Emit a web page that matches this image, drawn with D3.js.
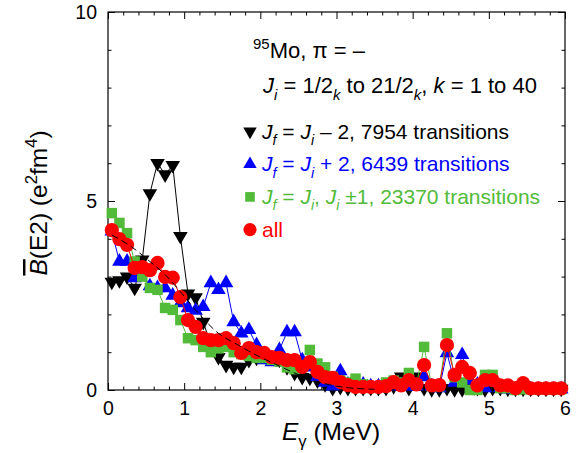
<!DOCTYPE html>
<html>
<head>
<meta charset="utf-8">
<script src="https://cdn.jsdelivr.net/npm/d3@7"></script>
<style>
  body { margin: 0; background: #fff; }
  svg { display: block; font-family: "Liberation Sans", Arial, sans-serif; }
</style>
</head>
<body>
<div id="chart"></div>
<script>
// gamma energies (MeV), bin centres
const energies = [0.05, 0.15, 0.25, 0.35, 0.45, 0.55, 0.65, 0.75, 0.85, 0.95,
  1.05, 1.15, 1.25, 1.35, 1.45, 1.55, 1.65, 1.75, 1.85, 1.95,
  2.05, 2.15, 2.25, 2.35, 2.45, 2.55, 2.65, 2.75, 2.85, 2.95,
  3.05, 3.15, 3.25, 3.35, 3.45, 3.55, 3.65, 3.75, 3.85, 3.95,
  4.05, 4.15, 4.25, 4.35, 4.45, 4.55, 4.65, 4.75, 4.85, 4.95,
  5.05, 5.15, 5.25, 5.35, 5.45, 5.55, 5.65, 5.75, 5.85, 5.95];

// Jf = Ji - 2
const bMinus2 = [2.86, 2.9, 3.0, 2.7, 3.45, 5.2, 6.0, 5.7, 5.95, 4.07,
  2.55, 2.45, 1.8, 1.2, 0.87, 0.66, 0.61, 0.61, 0.79, 0.85,
  0.9, 0.85, 0.8, 0.6, 0.45, 0.34, 0.32, 0.25, 0.15, 0.05,
  0.08, 0.05, 0.05, 0.05, 0.05, 0.05, 0.05, 0.1, 0.35, 0.05,
  0.35, 0.05, 0.02, 0.02, 0.05, 0.02, 0.02, 0.1, 0.05, 0.02,
  0.05, 0.05, 0.03, 0.03, 0.03, 0.03, 0.03, 0.03, 0.03, 0.03];

// Jf = Ji + 2
const bPlus2 = [4.2, 3.4, 3.4, 2.96, 3.1, 2.75, 2.7, 2.7, 2.5, 2.3,
  2.17, 2.1, 2.2, 2.83, 2.65, 2.83, 1.8, 1.5, 1.59, 1.19,
  0.79, 0.74, 1.06, 1.53, 1.53, 0.79, 0.6, 0.35, 0.2, 0.1,
  0.5, 0.15, 0.1, 0.15, 0.1, 0.1, 0.1, 0.15, 0.1, 0.1,
  0.1, 0.34, 0.1, 0.05, 0.98, 0.2, 0.93, 0.26, 0.15, 0.05,
  0.3, 0.05, 0.02, 0.02, 0.02, 0.02, 0.02, 0.02, 0.02, 0.02];

// Jf = Ji, Ji +-1
const bSame = [4.68, 4.42, 4.15, 3.4, 3.0, 2.7, 2.65, 2.17, 2.12, 1.85,
  1.37, 1.32, 1.14, 1.0, 1.1, 1.14, 1.0, 0.95, 0.9, 0.85,
  0.85, 0.8, 0.75, 0.6, 0.55, 0.6, 1.06, 0.7, 0.6, 0.35,
  0.25, 0.2, 0.3, 0.15, 0.1, 0.1, 0.2, 0.25, 0.2, 0.45,
  0.15, 1.14, 0.1, 0.1, 1.5, 0.34, 0.2, 0.0, 0.0, 0.4,
  0.4, 0.05, 0.05, 0.0, 0.02, 0.02, 0.02, 0.02, 0.02, 0.02];

// all transitions
const bAll = [4.23, 3.99, 3.84, 3.23, 3.25, 3.17, 3.36, 2.99, 2.97, 2.46,
  1.85, 1.67, 1.37, 1.32, 1.32, 1.37, 1.24, 0.98, 1.11, 1.0,
  0.98, 0.87, 0.85, 0.79, 0.79, 0.61, 0.74, 0.48, 0.34, 0.32,
  0.21, 0.13, 0.08, 0.08, 0.08, 0.08, 0.1, 0.21, 0.12, 0.26,
  0.15, 0.66, 0.12, 0.13, 1.19, 0.4, 0.61, 0.45, 0.12, 0.26,
  0.26, 0.12, 0.12, 0.05, 0.18, 0.04, 0.04, 0.04, 0.04, 0.04];

// dashed reference curve
const fitE = [0.05, 0.3, 0.55, 0.75, 0.95, 1.2, 1.45, 1.7, 1.95, 2.2, 2.45, 2.7, 2.95, 3.2, 3.5];
const fitB = [4.1, 3.8, 3.4, 3.05, 2.6, 2.0, 1.5, 1.2, 0.92, 0.68, 0.45, 0.25, 0.12, 0.05, 0.02];

const xMajor = [0, 1, 2, 3, 4, 5, 6];
const xMinor = [0.2, 0.4, 0.6, 0.8, 1.2, 1.4, 1.6, 1.8, 2.2, 2.4, 2.6, 2.8, 3.2, 3.4, 3.6, 3.8, 4.2, 4.4, 4.6, 4.8, 5.2, 5.4, 5.6, 5.8];
const yMajor = [0, 5, 10];
const yMinor = [1, 2, 3, 4, 6, 7, 8, 9];

const width = 576, height = 453;
const margin = { top: 12, right: 11, bottom: 63, left: 108 };
const innerWidth = width - margin.left - margin.right;
const innerHeight = height - margin.top - margin.bottom;

const svg = d3.select("#chart").append("svg")
    .attr("width", width)
    .attr("height", height);
const g = svg.append("g").attr("transform", `translate(${margin.left},${margin.top})`);

const x = d3.scaleLinear().domain([0, 6]).range([0, innerWidth]);
const y = d3.scaleLinear().domain([0, 10]).range([innerHeight, 0]);

// mixed-style text: parts {t, i, sub, sup}
function richText(sel, parts, size) {
    let shift = 0;
    parts.forEach(p => {
        const want = p.sub ? size * 0.3 : p.sup ? -size * 0.42 : 0;
        const ts = sel.append("tspan").text(p.t).attr("dy", want - shift);
        if (p.i) ts.attr("font-style", "italic");
        if (p.sub || p.sup) ts.attr("font-size", size * 0.68);
        if (p.over) ts.style("text-decoration", "overline");
        shift = want;
    });
}

// axes (ticks point inwards, labels only on bottom/left majors)
function drawAxis(axis, transform, labels) {
    const a = g.append("g").attr("transform", transform).call(axis);
    a.select(".domain").remove();
    a.selectAll("line").attr("stroke", "#000");
    if (!labels) a.selectAll("text").remove();
    a.selectAll("text").attr("font-size", 19.5).attr("fill", "#000").attr("font-family", "Liberation Sans, Arial, sans-serif");
    return a;
}
drawAxis(d3.axisBottom(x).tickValues(xMajor).tickSize(-7).tickPadding(11).tickFormat(d3.format("d")), `translate(0,${innerHeight})`, true);
drawAxis(d3.axisBottom(x).tickValues(xMinor).tickSize(-3.5), `translate(0,${innerHeight})`, false);
drawAxis(d3.axisTop(x).tickValues(xMajor).tickSize(-7), "translate(0,0)", false);
drawAxis(d3.axisTop(x).tickValues(xMinor).tickSize(-3.5), "translate(0,0)", false);
drawAxis(d3.axisLeft(y).tickValues(yMajor).tickSize(-7).tickPadding(11).tickFormat(d3.format("d")), "translate(0,0)", true);
drawAxis(d3.axisLeft(y).tickValues(yMinor).tickSize(-3.5), "translate(0,0)", false);
drawAxis(d3.axisRight(y).tickValues(yMajor).tickSize(-7), `translate(${innerWidth},0)`, false);
drawAxis(d3.axisRight(y).tickValues(yMinor).tickSize(-3.5), `translate(${innerWidth},0)`, false);

g.append("rect").attr("width", innerWidth).attr("height", innerHeight)
    .attr("fill", "none").attr("stroke", "#000").attr("stroke-width", 1.2);

// series
const series = [
    { values: bMinus2, color: "#000000", shape: "down" },
    { values: bPlus2, color: "#0000ff", shape: "up" },
    { values: bSame, color: "#52bb3a", shape: "square" },
    { values: bAll, color: "#ff0000", shape: "circle" }
];

function symbolPath(shape, scale = 1) {
    if (shape === "circle") return d3.symbol(d3.symbolCircle, 160 * scale)();
    if (shape === "square") return d3.symbol(d3.symbolSquare, 110 * scale)();
    return d3.symbol(d3.symbolTriangle, 92 * scale)();
}

const line = d3.line().x(d => x(d.e)).y(d => y(d.v));

series.forEach(s => {
    const pts = energies.map((e, i) => ({ e, v: s.values[i] }));
    g.append("path").datum(pts)
        .attr("fill", "none")
        .attr("stroke", s.color)
        .attr("stroke-width", 1)
        .attr("d", line);
    g.selectAll(null).data(pts).enter().append("path")
        .attr("d", symbolPath(s.shape))
        .attr("fill", s.color)
        .attr("transform", d => `translate(${x(d.e)},${y(d.v)})${s.shape === "down" ? " rotate(180)" : ""}`);
});

// dashed curve
const fitPts = fitE.map((e, i) => ({ e, v: fitB[i] }));
g.append("path").datum(fitPts)
    .attr("fill", "none")
    .attr("stroke", "#000")
    .attr("stroke-width", 1)
    .attr("stroke-dasharray", "7,4")
    .attr("d", d3.line().x(d => x(d.e)).y(d => y(d.v)).curve(d3.curveMonotoneX));

// annotation
const t1 = svg.append("text").attr("x", 253).attr("y", 58).attr("font-size", 22);
richText(t1, [{ t: "95", sup: true }, { t: "Mo, \u03c0 = \u2013" }], 22);

const t2 = svg.append("text").attr("x", 263).attr("y", 93).attr("font-size", 22);
richText(t2, [{ t: "J", i: true }, { t: "i", i: true, sub: true }, { t: " = 1/2" }, { t: "k", i: true, sub: true },
    { t: " to 21/2" }, { t: "k", i: true, sub: true }, { t: ", " }, { t: "k", i: true }, { t: " = 1 to 40" }], 22);

// legend
const legendRows = [
    { shape: "down", color: "#000000", parts: [{ t: "J", i: true }, { t: "f", i: true, sub: true }, { t: " = " }, { t: "J", i: true }, { t: "i", i: true, sub: true }, { t: " \u2013 2, 7954 transitions" }] },
    { shape: "up", color: "#0000ff", parts: [{ t: "J", i: true }, { t: "f", i: true, sub: true }, { t: " = " }, { t: "J", i: true }, { t: "i", i: true, sub: true }, { t: " + 2, 6439 transitions" }] },
    { shape: "square", color: "#52bb3a", parts: [{ t: "J", i: true }, { t: "f", i: true, sub: true }, { t: " = " }, { t: "J", i: true }, { t: "i", i: true, sub: true }, { t: ", " }, { t: "J", i: true }, { t: "i", i: true, sub: true }, { t: " \u00b11, 23370 transitions" }] },
    { shape: "circle", color: "#ff0000", parts: [{ t: "all" }] }
];
legendRows.forEach((r, i) => {
    const base = 138.5 + i * 32.7;
    svg.append("path").attr("d", symbolPath(r.shape, 0.85)).attr("fill", r.color)
        .attr("transform", `translate(250,${base - 7})${r.shape === "down" ? " rotate(180)" : ""}`);
    const t = svg.append("text").attr("x", 262).attr("y", base).attr("font-size", 21).attr("fill", r.color);
    richText(t, r.parts, 21);
});

// axis titles
const xt = svg.append("text").attr("x", 331).attr("y", 440).attr("font-size", 24.5).attr("text-anchor", "middle");
richText(xt, [{ t: "E", i: true }, { t: "\u03b3", sub: true }, { t: " (MeV)" }], 24.5);

const yt = svg.append("text").attr("transform", "translate(47,203) rotate(-90)").attr("font-size", 24.5).attr("text-anchor", "middle");
richText(yt, [{ t: "B", i: true, over: true }, { t: "(E2) (e" }, { t: "2", sup: true }, { t: "fm" }, { t: "4", sup: true }, { t: ")" }], 24.5);
</script>
</body>
</html>
